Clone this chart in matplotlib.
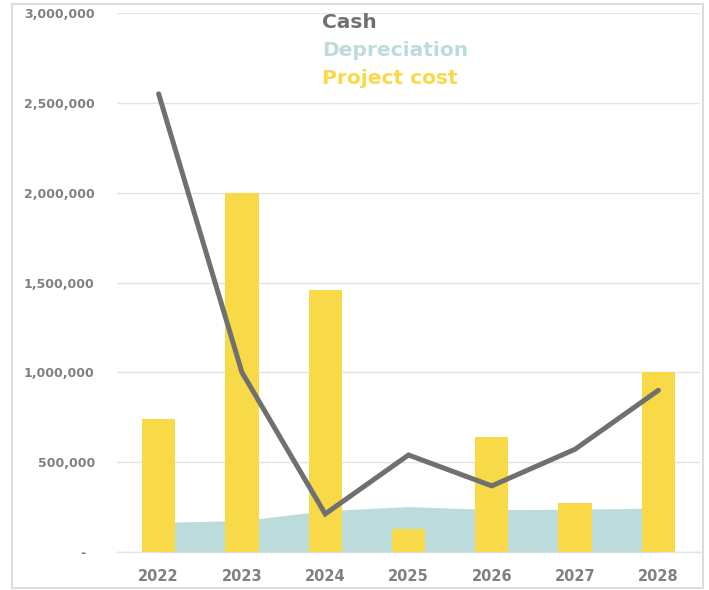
import matplotlib
matplotlib.use("Agg")
import matplotlib.pyplot as plt
from matplotlib.patches import Rectangle
from matplotlib.ticker import FuncFormatter

years = ["2022", "2023", "2024", "2025", "2026", "2027", "2028"]
cash = [2550000, 1000000, 212000, 540000, 368000, 572000, 900000]
depreciation = [165000, 175000, 230000, 253000, 236000, 238000, 245000]
project_cost = [740000, 2000000, 1460000, 130000, 640000, 270000, 1000000]
y_ticks = [0, 500000, 1000000, 1500000, 2000000, 2500000, 3000000]

CASH_C = "#707070"
DEP_C = "#bcdcdc"
COST_C = "#f8d947"
TEXT_C = "#808080"
GRID_C = "#e4e4e4"

plt.rcParams["font.family"] = ["DejaVu Sans"]

fig = plt.figure(figsize=(7.09, 5.90), dpi=100)
ax = fig.add_axes([117 / 709, 1 - 552 / 590, (700 - 117) / 709, (552 - 13) / 590])

x = list(range(len(years)))

# depreciation as a filled area, bars on top, cash line above everything
ax.fill_between(x, 0, depreciation, color=DEP_C, linewidth=0, zorder=2)
ax.bar(x, project_cost, width=0.4, color=COST_C, zorder=3)
ax.plot(x, cash, color=CASH_C, linewidth=3.6, solid_capstyle="round",
        solid_joinstyle="miter", zorder=4)

ax.set_xlim(-0.5, len(years) - 0.5)
ax.set_ylim(0, 3000000)
ax.set_yticks(y_ticks)
ax.yaxis.set_major_formatter(
    FuncFormatter(lambda v, p: "-  " if v == 0 else f"{v:,.0f}"))
ax.set_xticks(x)
ax.set_xticklabels(years)

ax.grid(axis="y", color=GRID_C, linewidth=1.0, zorder=0)
ax.set_axisbelow(True)
for s in ["top", "right", "left"]:
    ax.spines[s].set_visible(False)
ax.spines["bottom"].set_color(GRID_C)
ax.spines["bottom"].set_linewidth(1.0)
ax.spines["bottom"].set_zorder(1)

ax.tick_params(axis="y", length=0, pad=16, labelsize=9, labelcolor=TEXT_C)
ax.tick_params(axis="x", length=0, pad=12, labelsize=10.5, labelcolor=TEXT_C)
for lab in ax.get_yticklabels() + ax.get_xticklabels():
    lab.set_fontweight("bold")

# legend as coloured text entries
legend_items = [("Cash", CASH_C, 22), ("Depreciation", DEP_C, 50),
                ("Project cost", COST_C, 78)]
for label, col, ypix in legend_items:
    fig.text(322 / 709, 1 - ypix / 590, label, color=col, fontsize=14.5,
             fontweight="bold", ha="left", va="center")

# outer chart border
fig.patches.append(Rectangle((12 / 709, 1 - 588 / 590), (703 - 12) / 709,
                             (588 - 4) / 590, transform=fig.transFigure,
                             fill=False, edgecolor="#dcdcdc", linewidth=1.5))

fig.savefig("out.png", dpi=100)
